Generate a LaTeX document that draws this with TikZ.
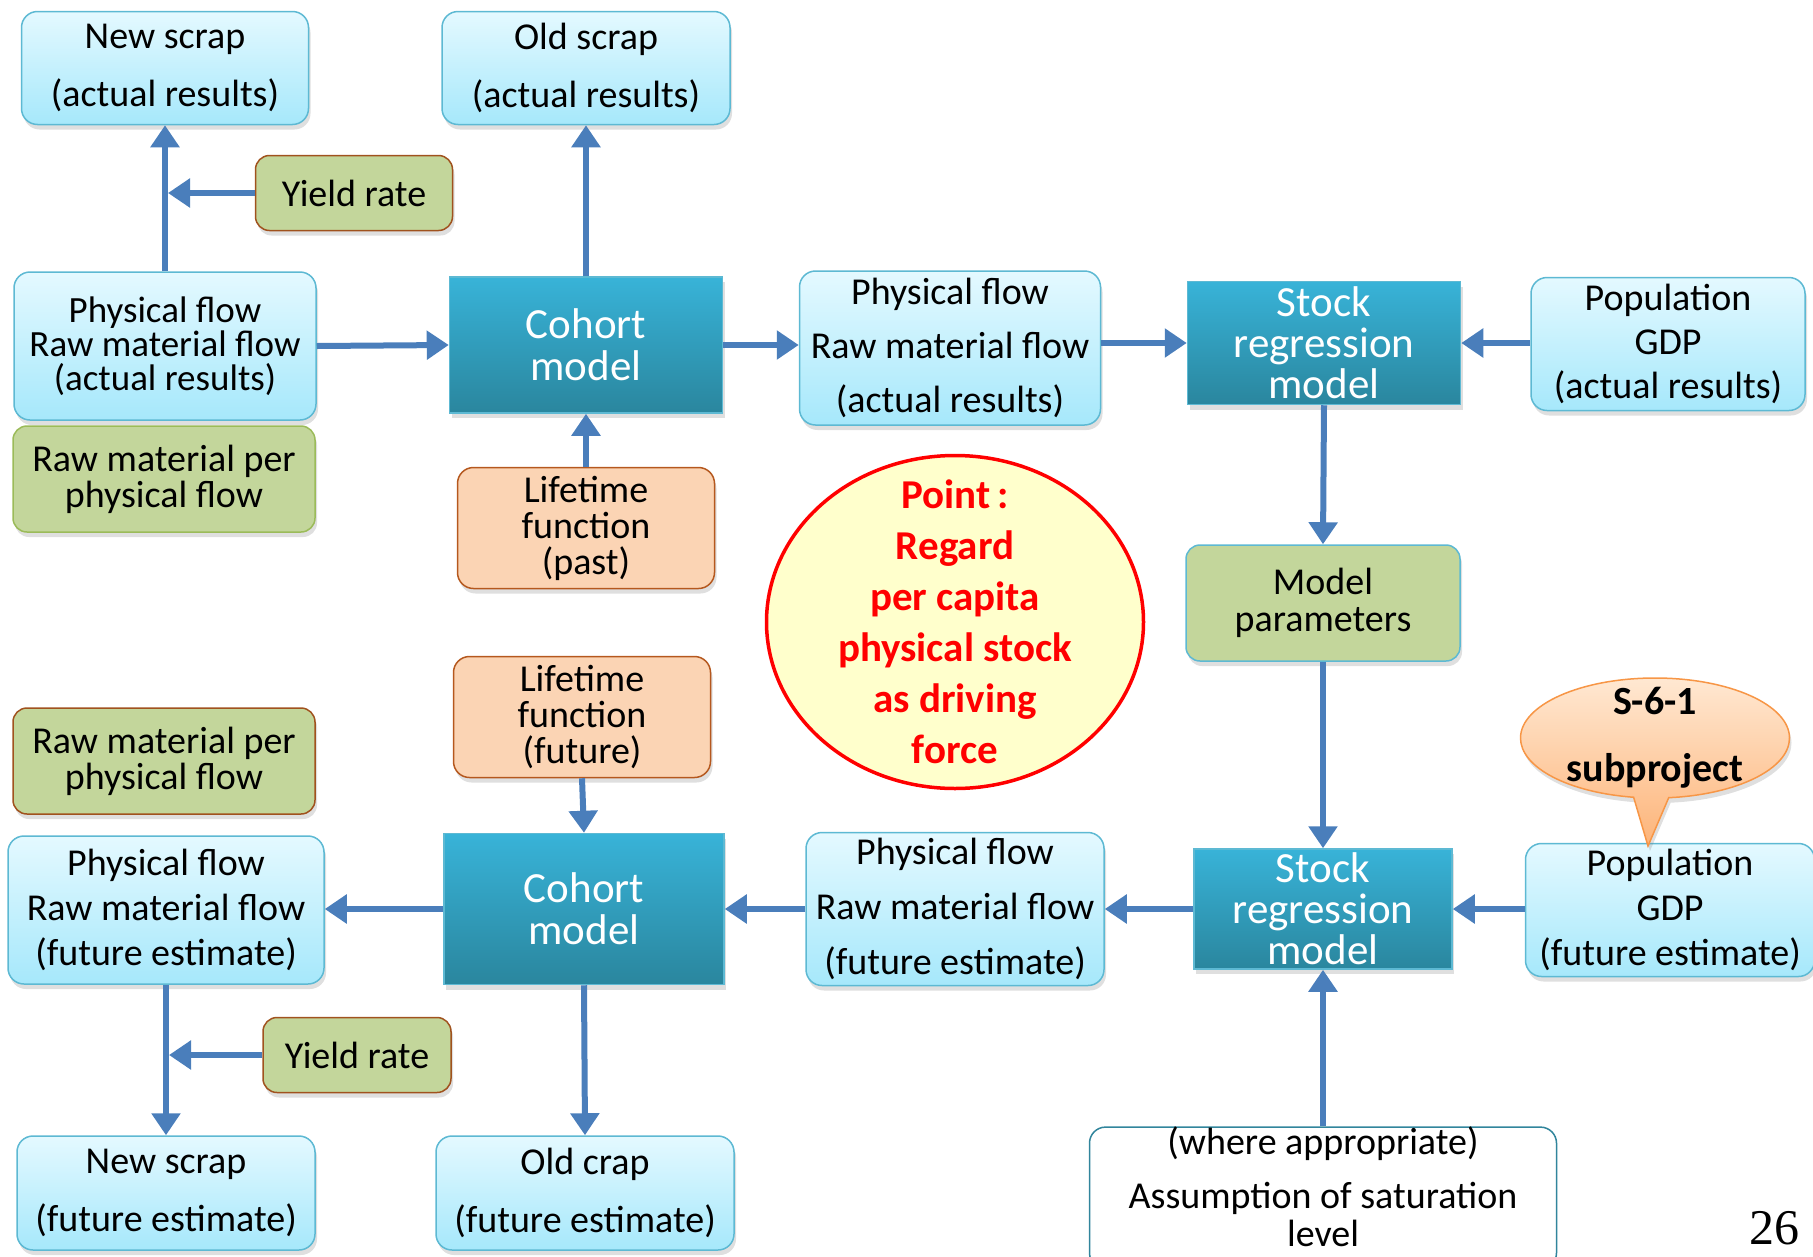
\documentclass[tikz,border=0pt]{standalone}
\usepackage{fontspec}
\setmainfont{Carlito}
\newfontfamily\numfont{Liberation Serif}
\usetikzlibrary{arrows.meta,shapes.geometric,shapes.callouts,shadows}

\definecolor{lbtop}{HTML}{E4F9FF}
\definecolor{lbbot}{HTML}{A6E8FB}
\definecolor{lbline}{HTML}{5DB9D3}
\definecolor{dbtop}{HTML}{38B3D8}
\definecolor{dbbot}{HTML}{2A869E}
\definecolor{dbline}{HTML}{5DB9D3}
\definecolor{grfill}{HTML}{C3D69B}
\definecolor{grline}{HTML}{9BBB59}
\definecolor{brline}{HTML}{A0521E}
\definecolor{orfill}{HTML}{FBD4B4}
\definecolor{orline}{HTML}{B5581E}
\definecolor{ptfill}{HTML}{FFFFCC}
\definecolor{cotop}{HTML}{FFE8D2}
\definecolor{cobot}{HTML}{FDB479}
\definecolor{coline}{HTML}{F79646}
\definecolor{flowblue}{HTML}{4A7EBB}
\definecolor{asline}{HTML}{31859C}

\newcommand\lsk[2]{\fontsize{#1}{#2}\selectfont}

\tikzset{
  wh/.style 2 args={minimum width=#1pt, minimum height=#2pt},
  shade box/.style={drop shadow={shadow xshift=2pt, shadow yshift=-5pt, opacity=0.25}},
  lightbox/.style={draw=lbline, line width=1.5pt, rounded corners=16pt, top color=lbtop, bottom color=lbbot, align=center, inner sep=0pt, shade box},
  darkbox/.style={draw=dbline, line width=1.5pt, top color=dbtop, bottom color=dbbot, text=white, align=center, inner sep=0pt, font=\lsk{43}{42}, shade box},
  greenbox/.style={draw=grline, line width=1.5pt, rounded corners=14pt, fill=grfill, align=center, inner sep=0pt, font=\lsk{38}{36}, shade box},
  lifebox/.style={draw=orline, line width=1.5pt, rounded corners=16pt, fill=orfill, align=center, inner sep=0pt, font=\lsk{38}{36}, shade box},
  flow/.style={draw=flowblue, line width=6pt, -{Triangle[length=22pt,width=28pt]}}
}

\begin{document}
\begin{tikzpicture}[x=1pt, y=-1pt]
  \useasboundingbox (0,0) rectangle (1813,1256);

  \node[lightbox, wh={287}{113}, font=\lsk{38}{58}] (newscrapA) at (165,68) {New scrap\\(actual results)};
  \node[lightbox, wh={288}{113}, font=\lsk{38}{58}] (oldscrapA) at (586,68) {Old scrap\\(actual results)};
  \node[greenbox, draw=brline, wh={197}{75}] (yieldA) at (354,193) {Yield rate};
  \node[lightbox, wh={302}{148}, font=\lsk{37}{34}] (physA) at (165,346) {Physical flow\\Raw material flow\\(actual results)};
  \node[greenbox, wh={302}{106}] (rawA) at (164,479) {Raw material per\\physical flow};
  \node[darkbox, wh={273}{136}] (cohortA) at (586,345) {Cohort\\model};
  \node[lifebox, wh={257}{121}] (lifeA) at (586,528) {Lifetime\\function\\(past)};
  \node[lightbox, wh={301}{154}, font=\lsk{38}{54}] (physB) at (950,348) {Physical flow\\Raw material flow\\(actual results)};
  \node[darkbox, wh={273}{123}, font=\lsk{43}{41}] (stockA) at (1324,343) {Stock\\regression\\model};
  \node[lightbox, wh={274}{133}, font=\lsk{38}{44}] (popA) at (1668,344) {Population\\GDP\\(actual results)};
  \node[greenbox, draw=lbline, wh={274}{116}, font=\lsk{38}{37}] (paramA) at (1323,603) {Model\\parameters};

  \node[ellipse, draw=red, line width=3.5pt, fill=ptfill, wh={377}{333}, inner sep=0pt] (point) at (955,622) {};
  \node[text=red, align=center, font=\bfseries\lsk{41}{51}] (pointtext) at (point.center) {Point\,:\\Regard\\per capita\\physical stock\\as driving\\force};

  \node[lifebox, wh={257}{121}] (lifeB) at (582,717) {Lifetime\\function\\(future)};
  \node[greenbox, draw=brline, wh={302}{106}] (rawB) at (164,761) {Raw material per\\physical flow};
  \node[lightbox, wh={316}{148}, font=\lsk{38}{45}] (physC) at (166,910) {Physical flow\\Raw material flow\\(future estimate)};
  \node[darkbox, wh={280}{151}] (cohortB) at (584,909) {Cohort\\model};
  \node[lightbox, wh={298}{153}, font=\lsk{38}{55}] (physD) at (955,909) {Physical flow\\Raw material flow\\(future estimate)};
  \node[darkbox, wh={258}{120}, font=\lsk{43}{41}] (stockB) at (1323,909) {Stock\\regression\\model};
  \node[lightbox, wh={289}{133}, font=\lsk{38}{45}] (popB) at (1670,910) {Population\\GDP\\(future estimate)};

  \coordinate (tipS) at (1648,846);
  \node[ellipse callout, callout absolute pointer={(tipS)}, draw=coline, line width=1.5pt, top color=cotop, bottom color=cobot, wh={269}{120}, inner sep=0pt, shade box] (subproj) at (1655,738) {};
  \node[align=center, font=\bfseries\lsk{40}{67}] (subprojtext) at (subproj.center) {S-6-1\\subproject};

  \node[greenbox, draw=brline, wh={188}{75}] (yieldB) at (357,1055) {Yield rate};
  \node[lightbox, wh={298}{114}, font=\lsk{38}{58}] (newscrapB) at (166,1193) {New scrap\\(future estimate)};
  \node[lightbox, wh={298}{114}, font=\lsk{38}{58}] (oldcrapB) at (585,1193) {Old crap\\(future estimate)};
  \node[draw=asline, line width=1.5pt, rounded corners=16pt, fill=white, align=center, inner sep=0pt, wh={467}{140}, text depth=22pt, font=\lsk{38}{38}] (assump) at (1323,1198) {(where appropriate)\\[16pt]Assumption of saturation\\level};

  \node[font=\numfont\lsk{50}{50}] (pagenum) at (1774,1228) {26};

  \draw[flow] (physA.north) -- (newscrapA.south);
  \draw[flow, shorten >=3pt] (yieldA.west) -- (yieldA.west -| physA.north);
  \draw[flow] (physA.east) -- (cohortA.west);
  \draw[flow] (cohortA.north) -- (oldscrapA.south);
  \draw[flow] (lifeA.north) -- (cohortA.south);
  \draw[flow] (cohortA.east) -- (physB.west |- cohortA.east);
  \draw[flow] (physB.east |- stockA.west) -- (stockA.west);
  \draw[flow] (popA.west |- stockA.east) -- (stockA.east);
  \draw[flow] (stockA.south) -- (paramA.north);
  \draw[flow] (paramA.south) -- (stockB.north);
  \draw[flow] (popB.west |- stockB.east) -- (stockB.east);
  \draw[flow] (stockB.west) -- (physD.east |- stockB.west);
  \draw[flow] (physD.west |- cohortB.east) -- (cohortB.east);
  \draw[flow] (cohortB.west) -- (physC.east |- cohortB.west);
  \draw[flow] (lifeB.south) -- (cohortB.north);
  \draw[flow] (cohortB.south) -- (oldcrapB.north);
  \draw[flow] (physC.south) -- (newscrapB.north);
  \draw[flow, shorten >=3pt] (yieldB.west) -- (yieldB.west -| physC.south);
  \draw[flow] (assump.north) -- (stockB.south);
\end{tikzpicture}
\end{document}
